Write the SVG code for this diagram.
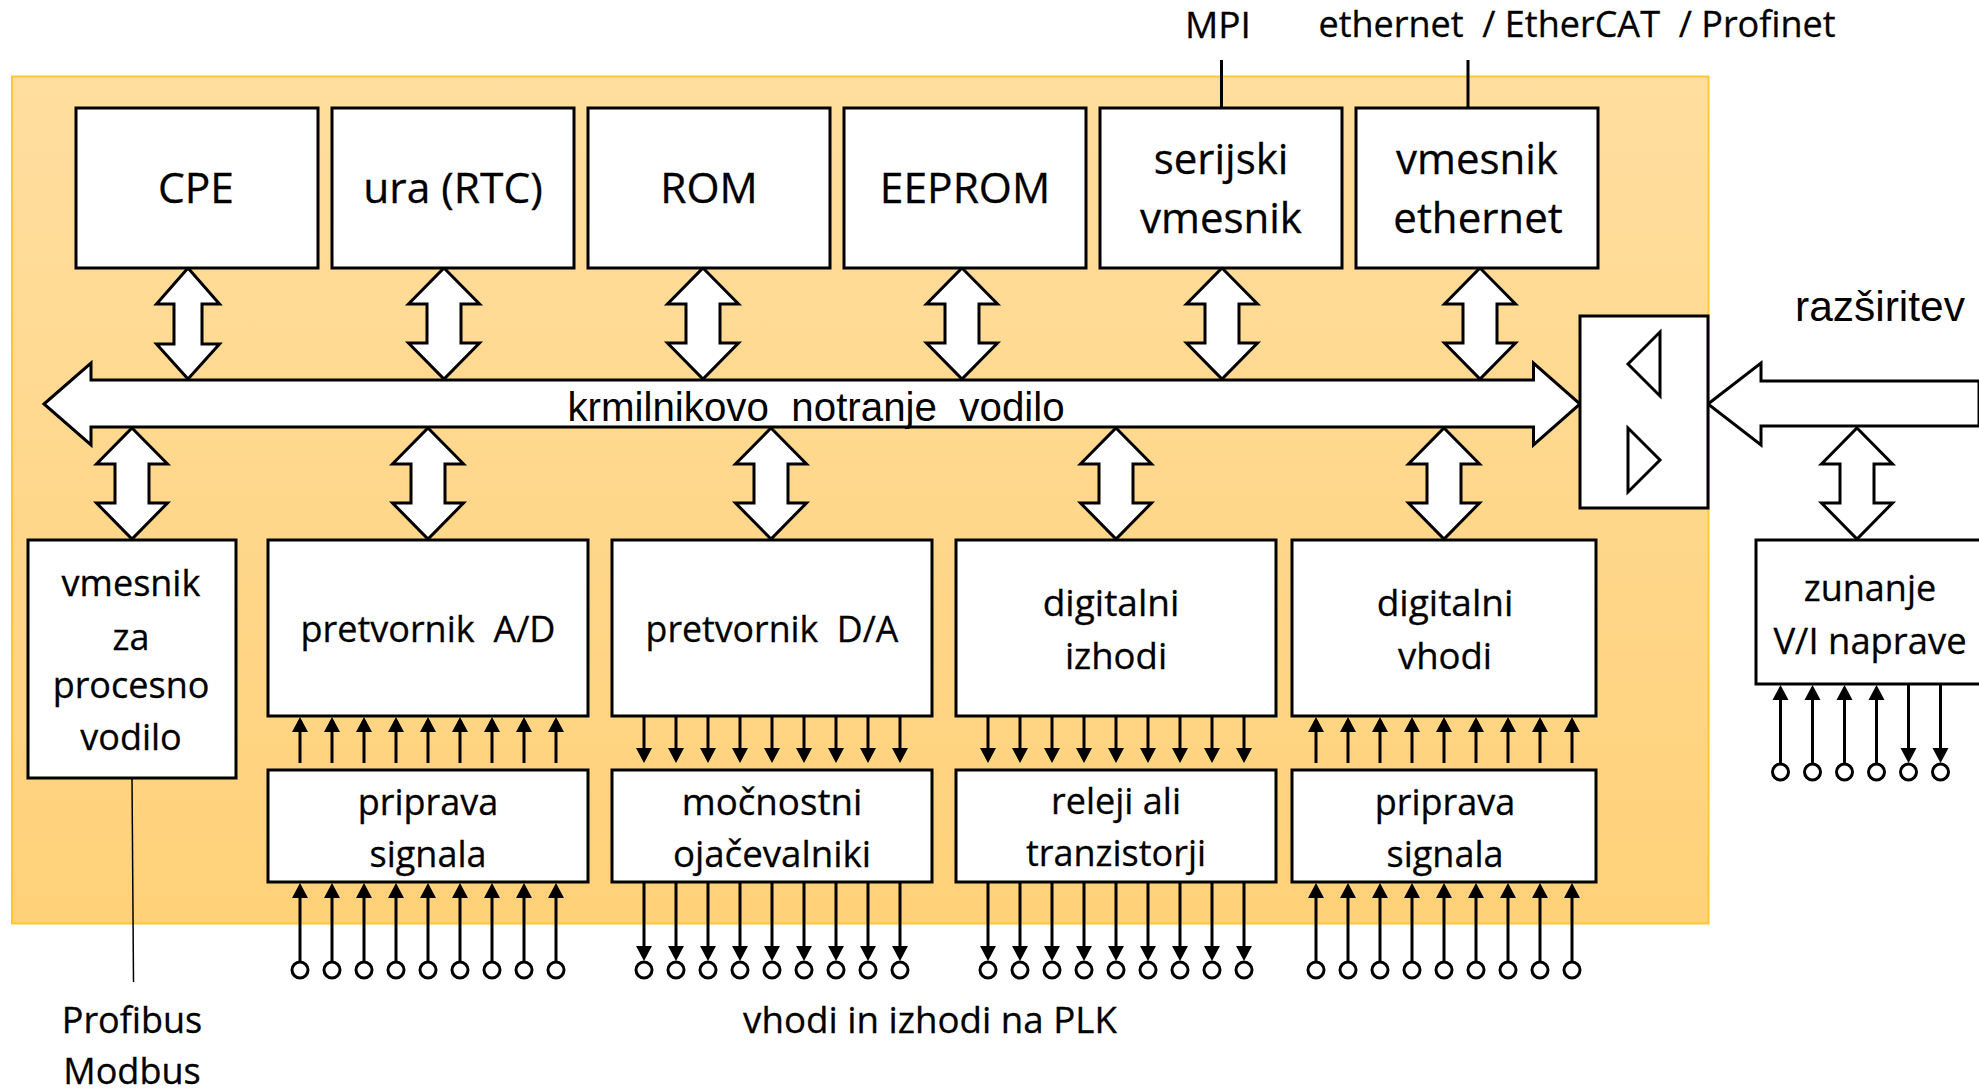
<svg xmlns="http://www.w3.org/2000/svg" width="1979" height="1089" viewBox="0 0 1979 1089">
<style>
.b{fill:#fff;stroke:#000;stroke-width:3}
.t{font-family:"Open Sans",sans-serif;fill:#000;stroke:#000;stroke-width:.3;text-anchor:middle}
.a{font-family:"Liberation Sans",Arial,sans-serif;fill:#000;text-anchor:middle}
.l{stroke:#000;stroke-width:3;fill:none}
</style>
<defs>
<linearGradient id="g" x1="0" y1="0" x2="0" y2="1"><stop offset="0" stop-color="#FFDE9F"/><stop offset="1" stop-color="#FFD179"/></linearGradient>
<path id="da" class="b" d="M0 0L31.5 36H14V76H31.5L0 111L-31.5 76H-14V36H-31.5Z"/>
<path id="db" class="b" d="M0 0L35.5 36H17V75H35.5L0 111L-35.5 75H-17V36H-35.5Z"/>
<g id="up"><path class="l" d="M0 46V14"/><path d="M0 0L8 15H-8Z"/></g>
<g id="dn"><path class="l" d="M0 0V32"/><path d="M0 46L8 31H-8Z"/></g>
<g id="ui"><path class="l" d="M0 79V14"/><circle class="b" cx="0" cy="87" r="8"/><path d="M0 0L8 15H-8Z"/></g>
<g id="di"><path class="l" d="M0 0V64"/><circle class="b" cx="0" cy="87" r="8"/><path d="M0 78L8 63H-8Z"/></g>
</defs>
<rect id="panel" x="12" y="76.5" width="1696.5" height="847" fill="url(#g)" stroke="#FFC82E" stroke-width="2"/>

<g id="connectors">
<path class="l" d="M1221.500 60V107M1468 60V107"/>
<path d="M132 778L133.500 982" stroke="#000" stroke-width="1.500" fill="none"/>
<use href="#da" x="188" y="268"/><use href="#db" x="444" y="268"/><use href="#db" x="703" y="268"/><use href="#db" x="962" y="268"/><use href="#db" x="1222" y="268"/><use href="#db" x="1480" y="268"/>
<use href="#db" x="132" y="428"/><use href="#db" x="428" y="428"/><use href="#db" x="771" y="428"/><use href="#db" x="1116" y="428"/><use href="#db" x="1444" y="428"/><use href="#db" x="1857" y="428"/>
<g id="ad-a"><use href="#up" x="300" y="717"/><use href="#up" x="332" y="717"/><use href="#up" x="364" y="717"/><use href="#up" x="396" y="717"/><use href="#up" x="428" y="717"/><use href="#up" x="460" y="717"/><use href="#up" x="492" y="717"/><use href="#up" x="524" y="717"/><use href="#up" x="556" y="717"/>
<use href="#ui" x="300" y="883"/><use href="#ui" x="332" y="883"/><use href="#ui" x="364" y="883"/><use href="#ui" x="396" y="883"/><use href="#ui" x="428" y="883"/><use href="#ui" x="460" y="883"/><use href="#ui" x="492" y="883"/><use href="#ui" x="524" y="883"/><use href="#ui" x="556" y="883"/></g>
<g id="da-a"><use href="#dn" x="644" y="717"/><use href="#dn" x="676" y="717"/><use href="#dn" x="708" y="717"/><use href="#dn" x="740" y="717"/><use href="#dn" x="772" y="717"/><use href="#dn" x="804" y="717"/><use href="#dn" x="836" y="717"/><use href="#dn" x="868" y="717"/><use href="#dn" x="900" y="717"/>
<use href="#di" x="644" y="883"/><use href="#di" x="676" y="883"/><use href="#di" x="708" y="883"/><use href="#di" x="740" y="883"/><use href="#di" x="772" y="883"/><use href="#di" x="804" y="883"/><use href="#di" x="836" y="883"/><use href="#di" x="868" y="883"/><use href="#di" x="900" y="883"/></g>
<g id="do-a"><use href="#dn" x="988" y="717"/><use href="#dn" x="1020" y="717"/><use href="#dn" x="1052" y="717"/><use href="#dn" x="1084" y="717"/><use href="#dn" x="1116" y="717"/><use href="#dn" x="1148" y="717"/><use href="#dn" x="1180" y="717"/><use href="#dn" x="1212" y="717"/><use href="#dn" x="1244" y="717"/>
<use href="#di" x="988" y="883"/><use href="#di" x="1020" y="883"/><use href="#di" x="1052" y="883"/><use href="#di" x="1084" y="883"/><use href="#di" x="1116" y="883"/><use href="#di" x="1148" y="883"/><use href="#di" x="1180" y="883"/><use href="#di" x="1212" y="883"/><use href="#di" x="1244" y="883"/></g>
<g id="di-a"><use href="#up" x="1316" y="717"/><use href="#up" x="1348" y="717"/><use href="#up" x="1380" y="717"/><use href="#up" x="1412" y="717"/><use href="#up" x="1444" y="717"/><use href="#up" x="1476" y="717"/><use href="#up" x="1508" y="717"/><use href="#up" x="1540" y="717"/><use href="#up" x="1572" y="717"/>
<use href="#ui" x="1316" y="883"/><use href="#ui" x="1348" y="883"/><use href="#ui" x="1380" y="883"/><use href="#ui" x="1412" y="883"/><use href="#ui" x="1444" y="883"/><use href="#ui" x="1476" y="883"/><use href="#ui" x="1508" y="883"/><use href="#ui" x="1540" y="883"/><use href="#ui" x="1572" y="883"/></g>
<g id="ext-a"><use href="#ui" x="1780.500" y="685"/><use href="#ui" x="1812.500" y="685"/><use href="#ui" x="1844.500" y="685"/><use href="#ui" x="1876.500" y="685"/><use href="#di" x="1908.500" y="685"/><use href="#di" x="1940.500" y="685"/></g>
</g>

<g id="bus"><path class="b" d="M44 404L91 363V380H1533.500V363L1580 404L1533.500 445V427H91V445Z"/>
<text class="a" x="816" y="421" font-size="40.300" xml:space="preserve">krmilnikovo  notranje  vodilo</text></g>
<g id="ext-bus"><path class="b" d="M1708 404L1761 363V381H1979V426H1761V445Z"/></g>
<g id="n-buf"><rect class="b" x="1580" y="316" width="128" height="192"/><path class="b" d="M1628 364L1660 332V396ZM1628 428L1660 460L1628 492Z" fill="none"/></g>

<g id="n-cpe"><rect class="b" x="76" y="108" width="242" height="160"/><text class="t" x="196" y="203" font-size="42.500">CPE</text></g>
<g id="n-ura"><rect class="b" x="332" y="108" width="242" height="160"/><text class="t" x="453" y="203" font-size="42.500">ura (RTC)</text></g>
<g id="n-rom"><rect class="b" x="588" y="108" width="242" height="160"/><text class="t" x="709" y="203" font-size="42.500">ROM</text></g>
<g id="n-eeprom"><rect class="b" x="844" y="108" width="242" height="160"/><text class="t" x="965" y="203" font-size="42.500">EEPROM</text></g>
<g id="n-ser"><rect class="b" x="1100" y="108" width="242" height="160"/><text class="t" x="1221" y="174" font-size="42">serijski</text><text class="t" x="1221" y="233" font-size="42">vmesnik</text></g>
<g id="n-eth"><rect class="b" x="1356" y="108" width="242" height="160"/><text class="t" x="1477" y="174" font-size="42">vmesnik</text><text class="t" x="1478" y="233" font-size="42">ethernet</text></g>

<g id="n-pv"><rect class="b" x="28" y="540" width="208" height="238"/><text class="t" x="131" y="596" font-size="36">vmesnik</text><text class="t" x="131" y="650" font-size="36">za</text><text class="t" x="131" y="698" font-size="36">procesno</text><text class="t" x="131" y="750" font-size="36">vodilo</text></g>
<g id="n-ad"><rect class="b" x="268" y="540" width="320" height="176"/><text class="t" x="428" y="642" font-size="36" xml:space="preserve">pretvornik  A/D</text></g>
<g id="n-da"><rect class="b" x="612" y="540" width="320" height="176"/><text class="t" x="772" y="642" font-size="35.700" xml:space="preserve">pretvornik  D/A</text></g>
<g id="n-do"><rect class="b" x="956" y="540" width="320" height="176"/><text class="t" x="1111" y="616" font-size="37">digitalni</text><text class="t" x="1116" y="669" font-size="36.500">izhodi</text></g>
<g id="n-di"><rect class="b" x="1292" y="540" width="304" height="176"/><text class="t" x="1445" y="616" font-size="37">digitalni</text><text class="t" x="1445" y="669" font-size="36.500">vhodi</text></g>
<g id="n-ps1"><rect class="b" x="268" y="770" width="320" height="112"/><text class="t" x="428" y="815" font-size="36">priprava</text><text class="t" x="428" y="867" font-size="36">signala</text></g>
<g id="n-oj"><rect class="b" x="612" y="770" width="320" height="112"/><text class="t" x="772" y="815" font-size="36.700">močnostni</text><text class="t" x="772" y="867" font-size="36.700">ojačevalniki</text></g>
<g id="n-rel"><rect class="b" x="956" y="770" width="320" height="112"/><text class="t" x="1116" y="814" font-size="36">releji ali</text><text class="t" x="1116" y="866" font-size="36">tranzistorji</text></g>
<g id="n-ps2"><rect class="b" x="1292" y="770" width="304" height="112"/><text class="t" x="1445" y="815" font-size="36">priprava</text><text class="t" x="1445" y="867" font-size="36">signala</text></g>
<g id="n-ext"><rect class="b" x="1756" y="540" width="225" height="144"/><text class="t" x="1870" y="601" font-size="36">zunanje</text><text class="t" x="1870" y="654" font-size="36.400">V/I naprave</text></g>

<g id="labels">
<text class="t" x="1218" y="38" font-size="37">MPI</text>
<text class="t" x="1577" y="37" font-size="36" xml:space="preserve">ethernet  / EtherCAT  / Profinet</text>
<text class="a" x="1880" y="321" font-size="42.500">razširitev</text>
<text class="t" x="132" y="1033" font-size="36">Profibus</text>
<text class="t" x="132" y="1084" font-size="36">Modbus</text>
<text class="t" x="930" y="1033" font-size="36.700">vhodi in izhodi na PLK</text>
</g>
</svg>
